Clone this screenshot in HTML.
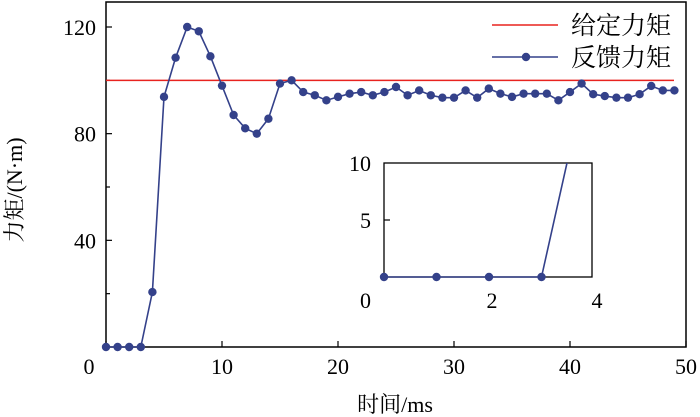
<!DOCTYPE html>
<html><head><meta charset="utf-8">
<style>
html,body{margin:0;padding:0;background:#fff;}
svg{display:block;font-family:"Liberation Serif","Noto Serif CJK SC",serif;}
</style></head>
<body>
<svg id="chart" width="700" height="417" viewBox="0 0 700 417" xmlns="http://www.w3.org/2000/svg"></svg>
<script>
const times = [0,1,2,3,4,5,6,7,8,9,10,11,12,13,14,15,16,17,18,19,20,21,22,23,24,25,26,27,28,29,30,31,32,33,34,35,36,37,38,39,40,41,42,43,44,45,46,47,48,49];
const feedbackTorque = [0,0,0,0,20.6,93.8,108.5,120,118.4,109,98,87,82,80,85.6,98.8,100,95.6,94.4,92.5,93.8,95,95.6,94.4,95.6,97.5,94.4,96.2,94.4,93.5,93.5,96.2,93.5,96.9,95,93.8,95,95,95,92.5,95.6,98.8,94.8,94.1,93.5,93.5,94.8,97.9,96.2,96.2];
const setTorque = 100;
const xTicks = [0,10,20,30,40,50];
const yTicks = [40,80,120];
const yMinorTicks = [20,60,100];
const insetXTicks = [0,2,4];
const insetYTicks = [0,5,10];

const NS = "http://www.w3.org/2000/svg";
const svg = document.getElementById('chart');
function mk(tag, attrs, parent){
  const e = document.createElementNS(NS, tag);
  for (const k in attrs) e.setAttribute(k, attrs[k]);
  (parent||svg).appendChild(e);
  return e;
}
const X0=106, X1=686, Y0=347, YT=2;
const xs = v => X0 + v*(X1-X0)/50;
const ys = v => Y0 - v*(Y0-27)/120;

let el = mk('rect',{x:X0,y:YT,width:X1-X0,height:Y0-YT,fill:'none',stroke:'#000','stroke-width':1.5});



xTicks.forEach(t=>{
  const tk = mk('line',{x1:xs(t),x2:xs(t),y1:Y0,y2:Y0-6,stroke:'#000','stroke-width':1.2});
  
  
  const lb = mk('text',{x:(t===0?89:xs(t)),y:Y0+27,'text-anchor':'middle','font-size':22});
  lb.textContent = t;
  
  
});
yTicks.forEach(t=>{
  const tk = mk('line',{x1:X0,x2:X0+6,y1:ys(t),y2:ys(t),stroke:'#000','stroke-width':1.2});
  
  
  const lb = mk('text',{x:X0-10,y:ys(t)+8,'text-anchor':'end','font-size':22});
  lb.textContent = t;
  
  
});
yMinorTicks.forEach(t=>{
  const tk = mk('line',{x1:X0,x2:X0+4,y1:ys(t),y2:ys(t),stroke:'#000','stroke-width':1.2});
  
  
});

el = mk('line',{x1:X0,x2:674,y1:ys(setTorque),y2:ys(setTorque),stroke:'#e8231f','stroke-width':1.5});



const blue = '#34418a';
el = mk('polyline',{points:times.map((t,i)=>xs(t)+','+ys(feedbackTorque[i])).join(' '),fill:'none',stroke:blue,'stroke-width':1.6});


times.forEach((t,i)=>{
  const c = mk('circle',{cx:xs(t),cy:ys(feedbackTorque[i]),r:4.2,fill:blue});
  
  
});

el = mk('line',{x1:492,x2:558,y1:25,y2:25,stroke:'#e8231f','stroke-width':1.5});


el = mk('text',{x:571,y:34,'font-size':25,'font-family':'"Noto Serif CJK SC","Noto Sans CJK SC",serif'});
el.textContent='给定力矩';


el = mk('line',{x1:492,x2:558,y1:57,y2:57,stroke:blue,'stroke-width':1.6});


el = mk('circle',{cx:526,cy:57,r:4.2,fill:blue});


el = mk('text',{x:571,y:66,'font-size':25,'font-family':'"Noto Serif CJK SC","Noto Sans CJK SC",serif'});
el.textContent='反馈力矩';



el = mk('text',{x:395,y:412,'text-anchor':'middle','font-size':22,'font-family':'"Liberation Serif","Noto Serif CJK SC",serif'});
el.textContent='时间/ms';


el = mk('text',{x:0,y:0,'text-anchor':'middle','font-size':22,transform:'translate(22,190) rotate(-90)','font-family':'"Liberation Serif","Noto Serif CJK SC",serif'});
el.textContent='力矩/(N·m)';



const IX0=384, IX1=592, IY0=277, IY1=163;
const ixs = v => IX0 + v*52.5;
const iys = v => IY0 - v*(IY0-IY1)/10;
const g = mk('g',{});


mk('rect',{x:IX0,y:IY1,width:IX1-IX0,height:IY0-IY1,fill:'#fff',stroke:'#000','stroke-width':1.3},g);
insetYTicks.forEach(t=>{
  if(t>0&&t<10){ mk('line',{x1:IX0,x2:IX0+6,y1:iys(t),y2:iys(t),stroke:'#000','stroke-width':1.2},g); }
  const lb = mk('text',{x:IX0-13,y:(t===0?iys(t)+31:iys(t)+8),'text-anchor':'end','font-size':22},g);
  lb.textContent=t;
  
  
});
insetXTicks.forEach(t=>{
  if(t===0) return;
  const lb = mk('text',{x:ixs(t)+3,y:IY0+31,'text-anchor':'middle','font-size':22},g);
  lb.textContent=t;
  
  
});
const cp = mk('clipPath',{id:'insetClip'},g);
mk('rect',{x:IX0-6,y:IY1,width:IX1-IX0+12,height:IY0-IY1+6},cp);
const ig = mk('g',{'clip-path':'url(#insetClip)'},g);
const iPts=[]; for(let i=0;i<6;i++) iPts.push(ixs(times[i])+','+iys(feedbackTorque[i]));
el = mk('polyline',{points:iPts.join(' '),fill:'none',stroke:blue,'stroke-width':1.6},ig);


for(let i=0;i<6;i++){
  if(feedbackTorque[i]>10) continue;
  const c = mk('circle',{cx:ixs(times[i]),cy:iys(feedbackTorque[i]),r:4.2,fill:blue},ig);
  
  
}
</script>
</body></html>
